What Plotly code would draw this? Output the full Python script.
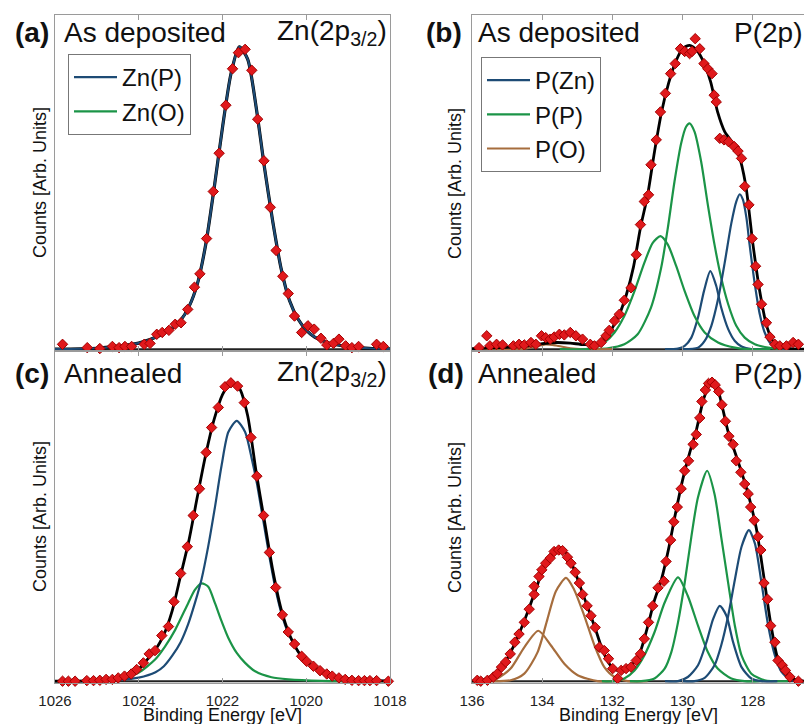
import plotly.graph_objects as go

# ---------------- data ----------------
# (a) As deposited, Zn(2p3/2)
A_DATA_E = [1025.82,1025.23,1024.93,1024.63,1024.47,1024.33,1024.17,1023.87,1023.73,1023.57,
            1023.44,1023.28,1023.13,1022.99,1022.83,1022.67,1022.54,1022.38,1022.22,1022.08,
            1021.92,1021.76,1021.62,1021.46,1021.30,1021.16,1021.01,1020.86,1020.72,1020.56,
            1020.43,1020.28,1020.11,1019.96,1019.81,1019.65,1019.51,1019.35,1019.22,1019.06,
            1018.91,1018.75,1018.32,1018.16]
A_DATA_I = [0.016,0.005,0.002,0.009,0.005,0.009,0.009,0.016,0.019,0.049,
            0.055,0.062,0.082,0.087,0.131,0.204,0.248,0.364,0.519,0.645,
            0.803,0.923,0.976,0.987,0.918,0.757,0.620,0.467,0.325,0.240,
            0.183,0.109,0.055,0.077,0.066,0.036,0.014,0.019,0.033,0.011,
            0.005,0.009,0.016,0.009]
A_ZNP_E = [1026,1025,1024.5,1024,1023.5,1023.2,1023,1022.8,1022.6,1022.4,1022.2,1022,1021.8,1021.6,
           1021.4,1021.2,1021,1020.8,1020.6,1020.4,1020.2,1020,1019.8,1019.5,1019,1018.5,1018]
A_ZNP_I = [0.0,0.003,0.01,0.02,0.045,0.07,0.095,0.14,0.215,0.345,0.53,0.73,0.905,0.995,
           0.955,0.80,0.60,0.42,0.265,0.16,0.10,0.063,0.04,0.022,0.008,0.003,0.001]

# (c) Annealed, Zn(2p3/2)
C_DATA_E = [1025.82,1025.68,1025.52,1025.24,1025.08,1024.93,1024.78,1024.63,1024.49,1024.34,
            1024.18,1024.05,1023.89,1023.75,1023.61,1023.45,1023.29,1023.16,1023.00,1022.84,
            1022.70,1022.55,1022.39,1022.26,1022.10,1021.94,1021.80,1021.64,1021.48,1021.32,
            1021.18,1021.02,1020.88,1020.73,1020.57,1020.43,1020.28,1020.11,1019.99,1019.83,
            1019.67,1019.51,1019.38,1019.22,1019.07,1018.91,1018.75,1018.61,1018.48,1018.32,1018.04]
C_DATA_I = [0,0,0,0.002,0.002,0.003,0.006,0.006,0.011,0.017,
            0.024,0.039,0.061,0.091,0.102,0.152,0.182,0.265,0.359,0.448,
            0.552,0.641,0.762,0.845,0.912,0.981,0.994,0.983,0.928,0.812,
            0.683,0.552,0.429,0.312,0.221,0.164,0.124,0.083,0.066,0.050,
            0.035,0.024,0.017,0.011,0.006,0.003,0.002,0.002,0.002,0.002,0]
C_FIT_E = [1026,1025,1024.5,1024.2,1024,1023.8,1023.6,1023.4,1023.2,1023,1022.8,1022.6,1022.4,1022.2,
           1022,1021.8,1021.6,1021.4,1021.2,1021,1020.8,1020.6,1020.4,1020.2,1020,1019.8,1019.5,1019,
           1018.5,1018]
C_FIT_I = [0,0.003,0.012,0.024,0.04,0.072,0.105,0.155,0.235,0.352,0.47,0.615,0.755,0.872,
           0.955,0.995,0.977,0.885,0.70,0.535,0.37,0.24,0.155,0.10,0.066,0.046,0.024,0.009,
           0.003,0.001]
C_ZNP_E = [1026,1025,1024.5,1024,1023.6,1023.4,1023.2,1023,1022.82,1022.66,1022.5,1022.34,1022.18,
           1022.02,1021.86,1021.66,1021.46,1021.3,1021.18,1021.02,1020.88,1020.73,1020.57,1020.43,
           1020.28,1020.11,1019.83,1019.5,1019,1018.5,1018]
C_ZNP_I = [0,0.001,0.004,0.012,0.03,0.05,0.085,0.13,0.19,0.26,0.34,0.45,0.58,
           0.72,0.83,0.867,0.83,0.74,0.66,0.53,0.415,0.305,0.215,0.16,
           0.12,0.08,0.048,0.023,0.008,0.003,0.001]
C_ZNO_E = [1026,1025,1024.41,1024.01,1023.61,1023.37,1023.13,1022.82,1022.66,1022.5,1022.34,1022.18,
           1022.02,1021.86,1021.66,1021.46,1021.22,1020.83,1020.43,1019.63,1018]
C_ZNO_I = [0,0.002,0.009,0.028,0.072,0.116,0.171,0.26,0.304,0.326,0.315,0.26,
           0.199,0.144,0.094,0.061,0.033,0.013,0.006,0.001,0]

# (b) As deposited, P(2p)
B_DATA_E = [135.80,135.58,135.49,135.30,135.13,134.82,134.66,134.51,134.32,134.18,
            134.02,133.90,133.77,133.66,133.51,133.37,133.20,133.04,132.85,132.63,
            132.51,132.32,132.18,132.09,131.94,131.80,131.66,131.47,131.32,131.20,
            131.09,130.97,130.90,130.75,130.63,130.49,130.34,130.21,130.06,129.94,
            129.80,129.73,129.64,129.51,129.39,129.28,129.16,129.10,129.04,128.94,
            128.82,128.69,128.53,128.42,128.32,128.23,128.11,128.02,127.92,127.85,
            127.75,127.61,127.51,127.37,127.23,127.04,126.85,126.70]
B_DATA_I = [0.005,0.044,0.011,0.016,0.014,0.011,0.016,0.014,0.022,0.016,
            0.044,0.038,0.033,0.040,0.049,0.047,0.055,0.044,0.033,0.016,
            0.011,0.022,0.044,0.062,0.093,0.115,0.161,0.202,0.311,0.410,
            0.486,0.508,0.607,0.689,0.781,0.842,0.907,0.940,0.989,0.980,
            0.973,0.980,1.022,0.989,0.940,0.923,0.907,0.836,0.814,0.694,
            0.689,0.683,0.667,0.652,0.628,0.536,0.475,0.364,0.273,0.213,
            0.148,0.087,0.040,0.016,0.011,0.011,0.022,0.016]
B_FIT_E = [136,135.5,135,134.5,134,133.6,133.2,132.8,132.4,132.2,
           132,131.8,131.6,131.4,131.2,131,130.8,130.6,130.4,130.2,
           130,129.8,129.6,129.4,129.2,129,128.8,128.6,128.4,128.2,
           128,127.8,127.6,127.4,127.2,127,126.54]
B_FIT_I = [0.002,0.004,0.006,0.01,0.018,0.022,0.02,0.015,0.018,0.035,
           0.07,0.115,0.18,0.27,0.40,0.505,0.65,0.78,0.875,0.945,
           0.99,1.0,0.985,0.945,0.88,0.78,0.716,0.683,0.64,0.54,
           0.35,0.19,0.075,0.022,0.008,0.003,0.0]
B_PZN1_E = [130.0,129.56,129.37,129.18,128.99,128.80,128.61,128.47,128.37,128.28,
            128.18,128.09,127.94,127.80,127.66,127.47,127.23,126.9,126.54]
B_PZN1_I = [0,0.005,0.027,0.077,0.164,0.284,0.415,0.486,0.510,0.492,
            0.432,0.344,0.213,0.115,0.055,0.016,0.003,0,0]
B_PZN2_E = [130.5,130.13,129.94,129.75,129.56,129.39,129.21,129.04,128.90,128.70,128.51,128.32,128.04,127.5]
B_PZN2_I = [0,0.002,0.011,0.038,0.104,0.191,0.257,0.208,0.137,0.066,0.027,0.009,0,0]
B_PP1_E = [133,132.13,131.66,131.28,130.90,130.61,130.42,130.23,130.04,129.90,129.80,129.66,
           129.47,129.28,129.09,128.90,128.70,128.47,128.23,127.94,127.56,127.18,126.54]
B_PP1_I = [0,0.003,0.016,0.049,0.137,0.268,0.399,0.552,0.678,0.732,0.743,0.716,
           0.617,0.475,0.344,0.235,0.148,0.077,0.038,0.016,0.005,0,0]
B_PP2_E = [133.5,132.61,132.23,131.94,131.66,131.37,131.09,130.85,130.63,130.42,130.18,129.94,
           129.66,129.37,128.99,128.51,128.13,127.5]
B_PP2_I = [0,0.002,0.022,0.055,0.109,0.191,0.284,0.350,0.372,0.344,0.273,0.191,
           0.109,0.055,0.022,0.005,0,0]
B_PO_E = [136,134.6,134.2,133.9,133.6,133.2,132.8,132]
B_PO_I = [0,0,0.008,0.016,0.012,0.003,0,0]

# (d) Annealed, P(2p)
D_DATA_E = [135.85,135.75,135.56,135.39,135.28,135.16,135.04,134.91,134.78,134.66,
            134.51,134.37,134.23,134.23,134.09,134.01,133.90,133.77,133.66,133.53,
            133.42,133.28,133.18,133.06,132.94,132.85,132.72,132.61,132.49,132.37,
            132.23,132.11,131.99,131.85,131.75,131.61,131.47,131.32,131.20,131.09,
            130.97,130.85,130.70,130.53,130.47,130.34,130.25,130.15,130.04,129.94,
            129.83,129.70,129.61,129.51,129.45,129.35,129.26,129.16,129.07,128.97,
            128.88,128.78,128.68,128.56,128.47,128.34,128.23,128.13,128.06,127.96,
            127.85,127.77,127.68,127.58,127.49,127.37,127.28,127.16,127.07,126.94,126.70]
D_DATA_I = [0.003,0.0,0.003,0.014,0.025,0.047,0.064,0.091,0.130,0.157,
            0.196,0.240,0.289,0.316,0.349,0.371,0.393,0.410,0.432,0.437,
            0.435,0.413,0.393,0.363,0.327,0.289,0.251,0.218,0.179,0.113,
            0.102,0.075,0.042,0.009,0.036,0.042,0.047,0.069,0.091,0.141,
            0.196,0.251,0.311,0.333,0.399,0.470,0.531,0.580,0.641,0.701,
            0.734,0.789,0.822,0.877,0.932,0.970,0.992,0.996,0.987,0.965,
            0.921,0.866,0.816,0.789,0.734,0.696,0.657,0.624,0.580,0.536,
            0.481,0.437,0.327,0.273,0.185,0.130,0.069,0.053,0.036,0.014,0.0]
D_FIT_E = [136,135.8,135.6,135.4,135.2,135,134.8,134.6,134.4,134.2,
           134,133.8,133.6,133.45,133.3,133.1,132.9,132.7,132.5,132.3,
           132.1,131.95,131.8,131.6,131.4,131.2,131,130.8,130.6,130.4,
           130.2,130,129.8,129.6,129.4,129.2,129.05,128.9,128.7,128.5,
           128.3,128.1,127.9,127.7,127.5,127.3,127.1,126.9,126.54]
D_FIT_I = [0,0.003,0.008,0.02,0.042,0.075,0.12,0.175,0.235,0.30,
           0.365,0.41,0.433,0.438,0.425,0.375,0.31,0.245,0.18,0.11,
           0.06,0.04,0.035,0.04,0.06,0.10,0.18,0.27,0.34,0.44,
           0.56,0.67,0.76,0.84,0.94,0.995,0.99,0.93,0.83,0.76,
           0.69,0.61,0.51,0.36,0.2,0.08,0.03,0.01,0.0]
D_PO1_E = [136,135.6,135.28,134.9,134.51,134.11,133.75,133.37,132.99,132.42,132]
D_PO1_I = [0,0.003,0.009,0.042,0.113,0.168,0.119,0.058,0.02,0,0]
D_PO2_E = [135.5,134.9,134.51,134.13,133.85,133.61,133.32,133.09,132.8,132.51,132.23,131.94,131.56,131]
D_PO2_I = [0,0.003,0.025,0.097,0.207,0.30,0.344,0.305,0.218,0.119,0.047,0.014,0,0]
D_PP1_E = [131.5,131.18,130.80,130.51,130.32,130.13,129.94,129.75,129.56,129.30,129.09,128.90,
           128.70,128.51,128.32,128.04,127.66,127]
D_PP1_I = [0,0,0.009,0.042,0.097,0.196,0.327,0.481,0.613,0.701,0.624,0.481,
           0.327,0.185,0.086,0.025,0.003,0]
D_PP2_E = [132.3,131.94,131.66,131.37,131.09,130.80,130.51,130.13,129.85,129.56,129.28,129.0,
           128.61,128.23,127.8]
D_PP2_I = [0,0,0.009,0.036,0.086,0.163,0.262,0.346,0.284,0.185,0.097,0.042,0.009,0,0]
D_PZN1_E = [130.0,129.66,129.37,129.09,128.90,128.70,128.51,128.32,128.11,127.94,127.75,127.56,
            127.37,127.18,126.9,126.54]
D_PZN1_I = [0,0,0.011,0.053,0.119,0.218,0.338,0.448,0.503,0.459,0.327,0.185,
            0.086,0.031,0.003,0]
D_PZN2_E = [130.5,130.13,129.85,129.56,129.32,129.13,128.94,128.75,128.56,128.32,128.04,127.75,127.3]
D_PZN2_I = [0,0,0.014,0.053,0.130,0.207,0.251,0.218,0.130,0.047,0.009,0,0]

ZN_TICKS = [1026, 1024, 1022, 1020, 1018]
P_TICKS = [136, 134, 132, 130, 128]

# ---------------- styling ----------------
W, H = 804, 724
FONT = "Liberation Sans, Arial, sans-serif"
BLUE = "#1d4b75"
GREEN = "#1b9447"
BROWN = "#a66d3d"
RED = "#e0191c"
BOX = "#9a9a9a"

def px(x):
    return x / W

def py(y):
    return 1 - y / H

fig = go.Figure()

def line(x, y, color, width, xa, ya, name=None, legend="legend"):
    fig.add_trace(go.Scatter(
        x=x, y=y, mode="lines", xaxis=xa, yaxis=ya,
        line=dict(color=color, width=width, shape="spline", smoothing=0.7),
        name=name, showlegend=name is not None, legend=legend, hoverinfo="skip"))

def points(x, y, xa, ya):
    fig.add_trace(go.Scatter(
        x=x, y=y, mode="markers", xaxis=xa, yaxis=ya, showlegend=False,
        cliponaxis=False, hoverinfo="skip",
        marker=dict(symbol="diamond", size=8, color=RED,
                    line=dict(color="#a30000", width=1))))

# (a)
line(A_ZNP_E, A_ZNP_I, "black", 3.2, "x", "y")
line(A_ZNP_E, A_ZNP_I, BLUE, 2.2, "x", "y", "Zn(P)", "legend")
points(A_DATA_E, A_DATA_I, "x", "y")
# (c)
line(C_ZNO_E, C_ZNO_I, GREEN, 2.2, "x3", "y3", "Zn(O)", "legend")
line(C_ZNP_E, C_ZNP_I, BLUE, 2.2, "x3", "y3")
line(C_FIT_E, C_FIT_I, "black", 2.8, "x3", "y3")
points(C_DATA_E, C_DATA_I, "x3", "y3")
# (b)
line(B_PZN2_E, B_PZN2_I, BLUE, 2.2, "x2", "y2", "P(Zn)", "legend2")
line(B_PP1_E, B_PP1_I, GREEN, 2.2, "x2", "y2", "P(P)", "legend2")
line(B_PO_E, B_PO_I, BROWN, 2.2, "x2", "y2", "P(O)", "legend2")
line(B_PP2_E, B_PP2_I, GREEN, 2.2, "x2", "y2")
line(B_PZN1_E, B_PZN1_I, BLUE, 2.2, "x2", "y2")
line(B_FIT_E, B_FIT_I, "black", 2.8, "x2", "y2")
points(B_DATA_E, B_DATA_I, "x2", "y2")
# (d)
line(D_PO1_E, D_PO1_I, BROWN, 2.2, "x4", "y4")
line(D_PO2_E, D_PO2_I, BROWN, 2.2, "x4", "y4")
line(D_PP2_E, D_PP2_I, GREEN, 2.2, "x4", "y4")
line(D_PP1_E, D_PP1_I, GREEN, 2.2, "x4", "y4")
line(D_PZN2_E, D_PZN2_I, BLUE, 2.2, "x4", "y4")
line(D_PZN1_E, D_PZN1_I, BLUE, 2.2, "x4", "y4")
line(D_FIT_E, D_FIT_I, "black", 2.8, "x4", "y4")
points(D_DATA_E, D_DATA_I, "x4", "y4")

LX = [px(55), px(390)]
RX = [px(472), 1.0]
TY = [py(351), py(15)]
BY = [py(683), py(351)]
YR = [-0.006, 1.1]

def xax(dom, rng, ticks, labels, anchor):
    return dict(domain=dom, range=rng, anchor=anchor, tickvals=ticks,
                showticklabels=labels, ticks="inside", ticklen=5, tickcolor=BOX,
                showline=True, linecolor=BOX, mirror="ticks", showgrid=False,
                zeroline=False, automargin=False,
                tickfont=dict(family=FONT, size=15, color="#222"),
                ticklabelstandoff=4)

def yax(dom, anchor, mirror):
    return dict(domain=dom, range=YR, anchor=anchor, showticklabels=False,
                ticks="", showline=True, linecolor=BOX, mirror=mirror,
                showgrid=False, zeroline=False, automargin=False)

LEG = dict(xanchor="left", yanchor="top", bgcolor="white", bordercolor="#777",
           borderwidth=1, font=dict(family=FONT, size=24, color="#111"),
           itemwidth=43, tracegroupgap=0, traceorder="normal")

fig.update_layout(
    width=W, height=H, autosize=False,
    margin=dict(l=0, r=0, t=0, b=0, pad=0, autoexpand=False),
    paper_bgcolor="white", plot_bgcolor="white",
    font=dict(family=FONT, color="#111"),
    xaxis=xax(LX, [1026, 1018], ZN_TICKS, False, "y"),
    yaxis=yax(TY, "x", True),
    xaxis2=xax(RX, [136, 126.54], P_TICKS, False, "y2"),
    yaxis2=yax(TY, "x2", False),
    xaxis3=xax(LX, [1026, 1018], ZN_TICKS, True, "y3"),
    yaxis3=yax(BY, "x3", True),
    xaxis4=xax(RX, [136, 126.54], P_TICKS, True, "y4"),
    yaxis4=yax(BY, "x4", False),
    legend=dict(x=px(68), y=py(54), **LEG),
    legend2=dict(x=px(481), y=py(57), **LEG),
)

# dark baselines
for xa, ya in [("x", "y"), ("x2", "y2"), ("x3", "y3"), ("x4", "y4")]:
    fig.add_shape(type="line", xref=f"{xa} domain", yref=ya, x0=0, x1=1, y0=0, y1=0,
                  line=dict(color="#222", width=2), layer="below")

ann = []
def text(x, y, s, size, xanchor="left", angle=0):
    ann.append(dict(x=px(x), y=py(y), xref="paper", yref="paper", text=s,
                    showarrow=False, xanchor=xanchor, yanchor="middle",
                    textangle=angle,
                    font=dict(family=FONT, size=size, color="#111")))

for lab, x0, y0 in [("(a)", 32, 33), ("(b)", 444, 33), ("(c)", 32, 373), ("(d)", 446, 373)]:
    text(x0, y0, f"<b>{lab}</b>", 28, "center")
text(62, 33, "As deposited", 28)
text(476, 33, "As deposited", 28)
text(62, 373, "Annealed", 28)
text(476, 373, "Annealed", 28)
text(389, 33, "Zn(2p<sub>3/2</sub>)", 28, "right")
text(389, 373, "Zn(2p<sub>3/2</sub>)", 28, "right")
text(804, 33, "P(2p)", 28, "right")
text(804, 373, "P(2p)", 28, "right")
for xx, yy in [(40, 183), (40, 517), (455, 183), (455, 517)]:
    text(xx, yy, "Counts [Arb. Units]", 18, "center", angle=-90)
text(222, 715, "Binding Energy [eV]", 18, "center")
text(638, 715, "Binding Energy [eV]", 18, "center")
fig.update_layout(annotations=ann)

fig.write_html("out.html", config={"displayModeBar": False},
               post_script="document.body.style.margin='0';")
